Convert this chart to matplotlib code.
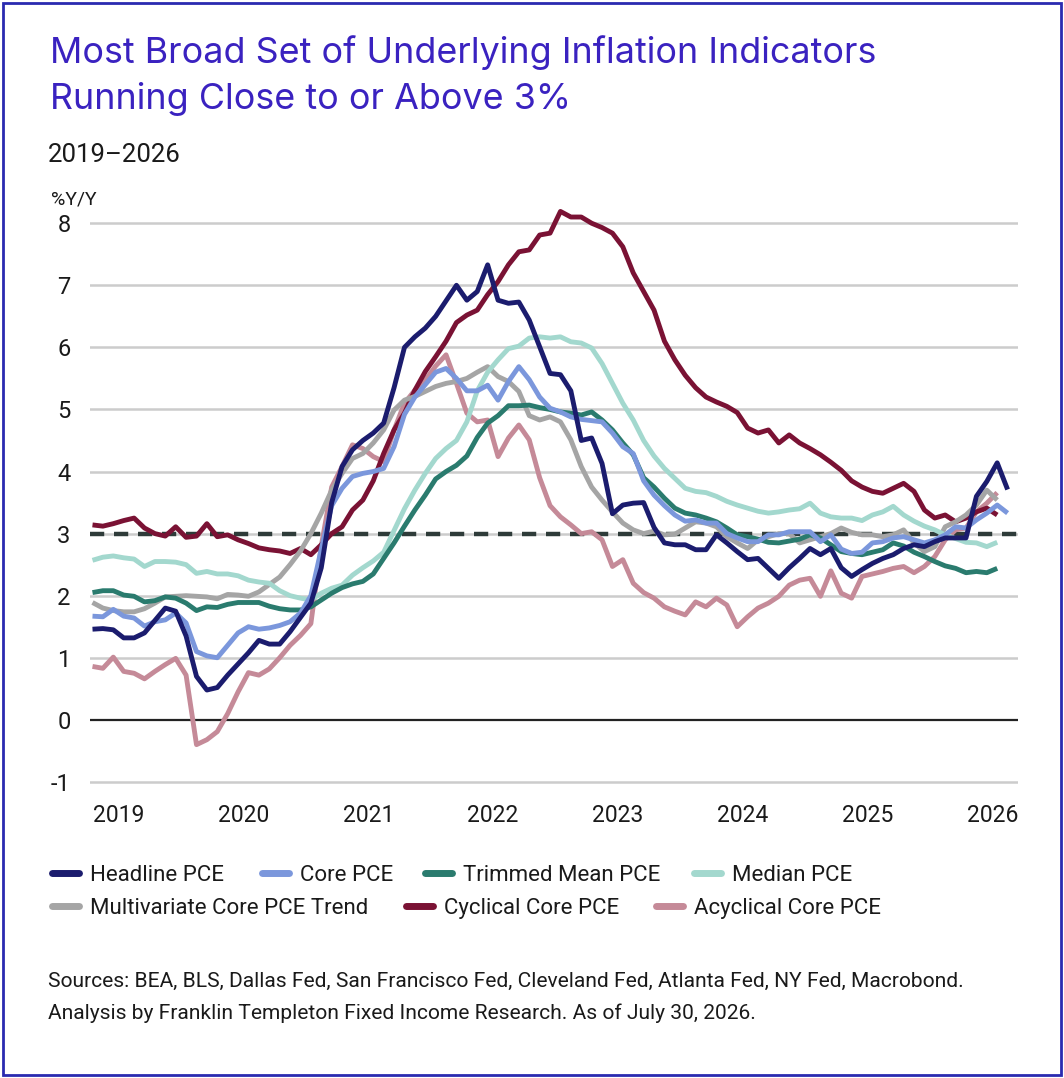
import numpy as np
import matplotlib
matplotlib.use("Agg")
import matplotlib.pyplot as plt
from matplotlib.lines import Line2D
from matplotlib.patches import Rectangle

# ===== DATA (monthly, % y/y) =====
start_year = 2018.79
headline = [1.46, 1.47, 1.45, 1.32, 1.32, 1.40, 1.60, 1.80, 1.75, 1.35, 0.70, 0.48, 0.52, 0.72, 0.90,
            1.08, 1.28, 1.22, 1.22, 1.42, 1.65, 1.88, 2.45, 3.50, 4.08, 4.35, 4.50, 4.62, 4.78, 5.35,
            6.00, 6.17, 6.31, 6.50, 6.75, 7.00, 6.76, 6.90, 7.33, 6.76, 6.71, 6.73, 6.44, 6.01, 5.58,
            5.56, 5.30, 4.50, 4.54, 4.13, 3.32, 3.46, 3.49, 3.50, 3.10, 2.85, 2.82, 2.82, 2.74, 2.74,
            2.98, 2.85, 2.71, 2.58, 2.60, 2.44, 2.28, 2.45, 2.60, 2.76, 2.66, 2.76, 2.45, 2.31, 2.42,
            2.52, 2.60, 2.66, 2.76, 2.82, 2.79, 2.87, 2.93, 2.93, 2.93, 3.60, 3.84, 4.14, 3.71]
core = [1.67, 1.66, 1.78, 1.67, 1.64, 1.51, 1.58, 1.61, 1.72, 1.56, 1.10, 1.03, 1.00, 1.20, 1.40,
        1.50, 1.46, 1.48, 1.52, 1.58, 1.72, 2.00, 2.75, 3.45, 3.73, 3.92, 3.97, 4.00, 4.05, 4.40,
        4.92, 5.20, 5.40, 5.60, 5.66, 5.50, 5.30, 5.30, 5.39, 5.15, 5.45, 5.69, 5.48, 5.20, 5.02,
        4.96, 4.88, 4.84, 4.82, 4.80, 4.62, 4.40, 4.29, 3.85, 3.62, 3.45, 3.30, 3.20, 3.22, 3.17,
        3.17, 3.00, 2.93, 2.87, 2.87, 2.98, 2.98, 3.03, 3.03, 3.03, 2.87, 2.98, 2.75, 2.68, 2.70,
        2.85, 2.87, 2.93, 2.95, 2.90, 2.85, 2.90, 2.98, 3.11, 3.09, 3.22, 3.33, 3.46, 3.33]
trimmed_mean = [2.05, 2.08, 2.08, 2.01, 1.99, 1.90, 1.92, 1.98, 1.96, 1.88, 1.76, 1.82, 1.81, 1.86, 1.89,
                1.89, 1.89, 1.83, 1.79, 1.77, 1.77, 1.82, 1.93, 2.04, 2.13, 2.19, 2.23, 2.35, 2.60, 2.85,
                3.12, 3.38, 3.62, 3.88, 4.00, 4.10, 4.25, 4.55, 4.78, 4.90, 5.06, 5.06, 5.07, 5.03, 5.00,
                4.96, 4.94, 4.91, 4.96, 4.83, 4.67, 4.46, 4.27, 3.90, 3.75, 3.57, 3.41, 3.33, 3.30, 3.25,
                3.19, 3.09, 2.98, 2.95, 2.91, 2.86, 2.85, 2.88, 2.91, 2.98, 2.93, 2.82, 2.71, 2.68, 2.66,
                2.70, 2.74, 2.85, 2.80, 2.70, 2.63, 2.55, 2.48, 2.44, 2.37, 2.39, 2.37, 2.44]
median = [2.57, 2.62, 2.64, 2.61, 2.59, 2.47, 2.55, 2.55, 2.54, 2.50, 2.36, 2.39, 2.35, 2.35, 2.32,
          2.25, 2.22, 2.20, 2.08, 2.00, 1.96, 1.93, 2.04, 2.12, 2.17, 2.33, 2.45, 2.56, 2.70, 3.05,
          3.40, 3.70, 3.97, 4.21, 4.37, 4.50, 4.80, 5.30, 5.60, 5.80, 5.98, 6.02, 6.15, 6.17, 6.15,
          6.17, 6.09, 6.07, 5.99, 5.74, 5.42, 5.10, 4.83, 4.50, 4.25, 4.05, 3.89, 3.73, 3.68, 3.66,
          3.60, 3.52, 3.46, 3.41, 3.36, 3.33, 3.35, 3.38, 3.40, 3.49, 3.33, 3.27, 3.25, 3.25, 3.21,
          3.30, 3.35, 3.44, 3.30, 3.20, 3.12, 3.06, 2.98, 2.92, 2.86, 2.85, 2.79, 2.86]
multivariate = [1.89, 1.80, 1.76, 1.74, 1.74, 1.79, 1.88, 1.98, 1.99, 2.00, 1.99, 1.98, 1.95, 2.02, 2.01,
                1.99, 2.06, 2.18, 2.30, 2.50, 2.72, 3.00, 3.33, 3.70, 3.97, 4.21, 4.29, 4.46, 4.67, 4.99,
                5.15, 5.21, 5.29, 5.37, 5.42, 5.45, 5.50, 5.60, 5.69, 5.53, 5.45, 5.29, 4.90, 4.83, 4.88,
                4.80, 4.51, 4.08, 3.75, 3.54, 3.35, 3.17, 3.06, 3.00, 3.04, 2.98, 2.99, 3.09, 3.19, 3.17,
                3.11, 2.95, 2.85, 2.76, 2.90, 2.95, 3.00, 3.00, 2.85, 2.90, 2.95, 3.00, 3.09, 3.02, 2.98,
                2.98, 2.95, 2.98, 3.06, 2.85, 2.71, 2.79, 3.11, 3.19, 3.30, 3.46, 3.70, 3.54]
cyclical = [3.14, 3.12, 3.16, 3.21, 3.25, 3.09, 3.00, 2.96, 3.11, 2.94, 2.96, 3.16, 2.95, 2.98, 2.90,
            2.84, 2.77, 2.74, 2.72, 2.68, 2.76, 2.66, 2.82, 3.00, 3.11, 3.38, 3.54, 3.85, 4.29, 4.67,
            4.94, 5.31, 5.61, 5.85, 6.10, 6.40, 6.52, 6.60, 6.85, 7.06, 7.33, 7.54, 7.57, 7.81, 7.84,
            8.19, 8.10, 8.10, 8.00, 7.93, 7.84, 7.62, 7.20, 6.90, 6.60, 6.10, 5.80, 5.55, 5.35, 5.20,
            5.12, 5.05, 4.95, 4.70, 4.62, 4.67, 4.46, 4.59, 4.46, 4.37, 4.27, 4.15, 4.02, 3.85, 3.75,
            3.68, 3.65, 3.73, 3.81, 3.68, 3.38, 3.25, 3.30, 3.19, 3.25, 3.35, 3.41, 3.30]
acyclical = [0.86, 0.83, 1.01, 0.78, 0.75, 0.66, 0.78, 0.89, 0.99, 0.72, -0.40, -0.32, -0.19, 0.10, 0.45,
             0.76, 0.72, 0.82, 1.00, 1.20, 1.36, 1.55, 2.80, 3.75, 4.08, 4.43, 4.37, 4.24, 4.16, 4.67,
             5.10, 5.31, 5.47, 5.70, 5.88, 5.42, 4.94, 4.80, 4.83, 4.24, 4.54, 4.75, 4.51, 3.90, 3.45,
             3.27, 3.14, 3.00, 3.03, 2.90, 2.47, 2.58, 2.20, 2.05, 1.96, 1.82, 1.75, 1.69, 1.90, 1.82,
             1.96, 1.85, 1.50, 1.66, 1.80, 1.88, 1.99, 2.17, 2.25, 2.28, 1.99, 2.40, 2.04, 1.96, 2.31,
             2.35, 2.39, 2.44, 2.47, 2.37, 2.47, 2.63, 2.90, 3.06, 3.09, 3.35, 3.49, 3.66]

labels = ["Headline PCE", "Core PCE", "Trimmed Mean PCE", "Median PCE",
          "Multivariate Core PCE Trend", "Cyclical Core PCE", "Acyclical Core PCE"]
series = [headline, core, trimmed_mean, median, multivariate, cyclical, acyclical]
colors = ["#1b1c6e", "#7b97dc", "#2a7b6e", "#a3d8ce", "#a5a5a5", "#7a1234", "#c58a98"]
years = list(range(2019, 2027))
yticks = list(range(-1, 9))

BODY = ["Roboto", "DejaVu Sans"]
TITLE_FONT = ["Inter", "Roboto", "DejaVu Sans"]
TXT = "#1a1a1a"

# ===== FIGURE =====
W, H = 1064, 1078
fig = plt.figure(figsize=(W / 100, H / 100), dpi=100)
fig.patch.set_facecolor("white")

ax = fig.add_axes([90 / W, 1 - 785 / H, 928 / W, 583.5 / H])

for yv in yticks:
    if yv == 0:
        ax.axhline(yv, color="#222222", lw=1.6, zorder=1)
    else:
        ax.axhline(yv, color="#cccccc", lw=1.8, zorder=0)
ax.axhline(3, color="#2e3b39", lw=3.2, dashes=(3.2, 2.2), zorder=2)

for vals, col in reversed(list(zip(series, colors))):
    x = start_year + np.arange(len(vals)) / 12
    ax.plot(x, vals, color=col, lw=3.5, solid_joinstyle="round", solid_capstyle="butt", zorder=3)

ax.set_xlim(start_year - 0.02, start_year + 89.0 / 12)
ax.set_ylim(-1.05, 8.35)
ax.set_yticks(yticks)
ax.set_yticklabels([str(v) for v in yticks], family=BODY, fontsize=17, color=TXT)
ax.set_xticks(years)
ax.set_xticklabels([str(v) for v in years], family=BODY, fontsize=16.5, color=TXT)
ax.tick_params(axis="y", length=0, pad=14)
ax.tick_params(axis="x", length=0, pad=14)
for s in ax.spines.values():
    s.set_visible(False)

# ===== TEXT =====
fig.text(50 / W, 1 - 63 / H, "Most Broad Set of Underlying Inflation Indicators",
         family=TITLE_FONT, fontsize=25.8, color="#3a22c0", va="baseline")
fig.text(50 / W, 1 - 109 / H, "Running Close to or Above 3%",
         family=TITLE_FONT, fontsize=25.8, color="#3a22c0", va="baseline")
fig.text(48 / W, 1 - 162 / H, "2019\u20132026", family=BODY, fontsize=18.5, color=TXT, va="baseline")
fig.text(51 / W, 1 - 205 / H, "%Y/Y", family=BODY, fontsize=14, color=TXT, va="baseline")

fig.text(48 / W, 1 - 987 / H,
         "Sources: BEA, BLS, Dallas Fed, San Francisco Fed, Cleveland Fed, Atlanta Fed, NY Fed, Macrobond.",
         family=BODY, fontsize=15.1, color=TXT, va="baseline")
fig.text(48 / W, 1 - 1019 / H,
         "Analysis by Franklin Templeton Fixed Income Research. As of July 30, 2026.",
         family=BODY, fontsize=15.1, color=TXT, va="baseline")

# ===== LEGEND (two flowing rows) =====
legend_rows = [(873, [(52, 0), (262, 1), (425, 2), (694, 3)]),
               (906, [(52, 4), (406, 5), (656, 6)])]
for ypx, entries in legend_rows:
    yf = 1 - ypx / H
    for xpx, i in entries:
        fig.add_artist(Line2D([xpx / W, (xpx + 27) / W], [yf, yf], transform=fig.transFigure,
                              color=colors[i], lw=5, solid_capstyle="round"))
        fig.text((xpx + 38) / W, yf, labels[i], family=BODY, fontsize=16, color=TXT,
                 va="center_baseline")

# blue frame
fig.patches.append(Rectangle((3 / W, 3 / H), 1 - 6 / W, 1 - 6 / H, transform=fig.transFigure,
                             fill=False, edgecolor="#2a2ab0", lw=2))

fig.savefig("out.png", dpi=100)
